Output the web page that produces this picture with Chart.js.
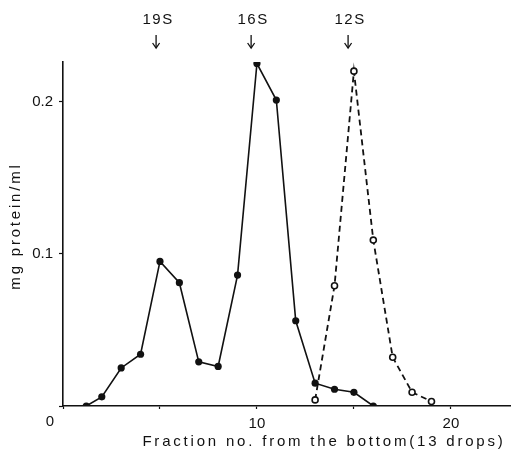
<!DOCTYPE html>
<html>
<head>
<meta charset="utf-8">
<script src="https://cdn.jsdelivr.net/npm/chart.js@4.4.1/dist/chart.umd.min.js"></script>
<style>
  html, body { margin: 0; padding: 0; background: #fff; }
  #wrap { width: 511px; height: 458px; }
</style>
</head>
<body>
<div id="wrap"><canvas id="chart" width="511" height="458"></canvas></div>
<script>
// Data
const solidFractions = [1.2, 2, 3, 4, 5, 6, 7, 8, 9, 10, 11, 12, 13, 14, 15, 16];
const solidProtein = [0, 0.006, 0.025, 0.034, 0.095, 0.081, 0.029, 0.026, 0.086, 0.225, 0.201, 0.056, 0.015, 0.011, 0.009, 0];

const dashedFractions = [13, 14, 15, 16, 17, 18, 19];
const dashedProtein = [0.004, 0.079, 0.220, 0.109, 0.032, 0.009, 0.003];

const markerLabels = ['19S', '16S', '12S'];
const markerFractions = [4.8, 9.7, 14.7];

const xTickValues = [0, 5, 10, 15, 20];
const xTickLabels = ['', '', '10', '', '20'];
const yTickValues = [0, 0.1, 0.2];
const yTickLabels = ['', '0.1', '0.2'];

const ink = '#111';
const font = 'Liberation Sans, Arial, sans-serif';

function toPoints(xs, ys) {
    return xs.map((x, i) => ({ x: x, y: ys[i] }));
}

// Draws the sedimentation markers, the origin "0" and the axis titles
const annotations = {
    id: 'annotations',
    afterDraw(chart) {
        const ctx = chart.ctx;
        const xs = chart.scales.x;
        ctx.save();
        ctx.fillStyle = ink;
        ctx.strokeStyle = ink;
        ctx.textAlign = 'center';
        ctx.textBaseline = 'middle';

        // markers with arrows
        ctx.font = '15px ' + font;
        ctx.letterSpacing = '1.5px';
        markerLabels.forEach((label, i) => {
            const px = xs.getPixelForValue(markerFractions[i]);
            ctx.fillText(label, px + 2, 20);
            ctx.lineWidth = 1.3;
            ctx.beginPath();
            ctx.moveTo(px, 35);
            ctx.lineTo(px, 48);
            ctx.stroke();
            ctx.beginPath();
            ctx.moveTo(px - 3.5, 43);
            ctx.lineTo(px, 48);
            ctx.lineTo(px + 3.5, 43);
            ctx.stroke();
        });

        // origin label
        ctx.letterSpacing = '0px';
        ctx.fillText('0', xs.getPixelForValue(0) - 13, 422);

        // x title
        ctx.font = '15px ' + font;
        ctx.letterSpacing = '2.8px';
        ctx.fillText('Fraction no. from the bottom(13 drops)', 324, 442);

        // y title
        ctx.translate(16, 226);
        ctx.rotate(-Math.PI / 2);
        ctx.letterSpacing = '2.8px';
        ctx.fillText('mg protein/ml', 0, 0);
        ctx.restore();
    }
};

const ctx = document.getElementById('chart').getContext('2d');
const chart = new Chart(ctx, {
    type: 'scatter',
    data: {
        datasets: [
            {
                label: 'solid',
                data: toPoints(solidFractions, solidProtein),
                showLine: true,
                borderColor: ink,
                borderWidth: 1.6,
                backgroundColor: ink,
                pointRadius: 3.6,
                pointBorderWidth: 0,
                tension: 0
            },
            {
                label: 'dashed',
                data: toPoints(dashedFractions, dashedProtein),
                showLine: true,
                borderColor: ink,
                borderWidth: 1.8,
                borderDash: [6, 4],
                backgroundColor: '#fff',
                pointBackgroundColor: '#fff',
                pointBorderColor: ink,
                pointBorderWidth: 1.6,
                pointRadius: 3,
                tension: 0
            }
        ]
    },
    options: {
        responsive: false,
        animation: false,
        layout: { autoPadding: false, padding: { top: 62, right: 0, left: 0, bottom: 0 } },
        plugins: {
            legend: { display: false },
            tooltip: { enabled: false }
        },
        scales: {
            x: {
                type: 'linear',
                min: 0,
                max: 23.1,
                afterBuildTicks: (scale) => {
                    scale.ticks = xTickValues.map(v => ({ value: v }));
                },
                afterFit: (scale) => {
                    scale.height = 52;
                },
                border: { color: ink, width: 1.6 },
                grid: { drawOnChartArea: false, tickLength: 3, color: ink, tickWidth: 1.2 },
                ticks: {
                    color: ink,
                    font: { family: font, size: 15 },
                    padding: 6,
                    maxRotation: 0,
                    callback: (value) => xTickLabels[xTickValues.indexOf(value)]
                }
            },
            y: {
                type: 'linear',
                min: 0,
                max: 0.226,
                afterBuildTicks: (scale) => {
                    scale.ticks = yTickValues.map(v => ({ value: v }));
                },
                afterFit: (scale) => {
                    scale.width = 63;
                },
                border: { color: ink, width: 1.6 },
                grid: { drawOnChartArea: false, tickLength: 4, color: ink, tickWidth: 1.2 },
                ticks: {
                    color: ink,
                    font: { family: font, size: 15 },
                    padding: 6,
                    callback: (value) => yTickLabels[yTickValues.indexOf(value)]
                }
            }
        }
    },
    plugins: [annotations]
});
</script>
</body>
</html>
